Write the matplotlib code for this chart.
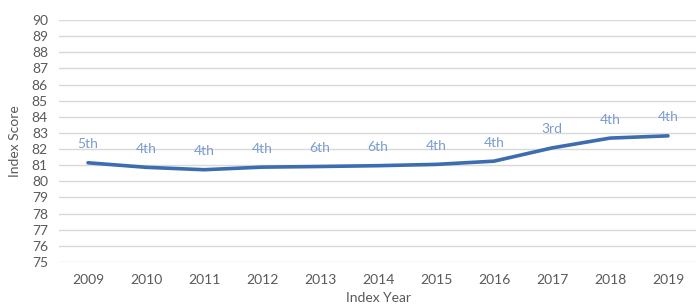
import matplotlib
matplotlib.use("Agg")
import matplotlib.pyplot as plt

years = ["2009", "2010", "2011", "2012", "2013", "2014", "2015", "2016", "2017", "2018", "2019"]
scores = [81.15, 80.87, 80.72, 80.88, 80.92, 80.97, 81.05, 81.25, 82.07, 82.68, 82.82]
ranks = ["5th", "4th", "4th", "4th", "6th", "6th", "4th", "4th", "3rd", "4th", "4th"]
yticks = list(range(75, 91))

plt.rcParams['font.family'] = ['Lato', 'DejaVu Sans']

fig = plt.figure(figsize=(6.96, 3.05), dpi=100)
ax = fig.add_axes([59/696, 1 - 262/305, (697 - 59)/696, (262 - 20)/305])

x = list(range(len(years)))
ax.plot(x, scores, color='#3D6CB0', linewidth=2.6, solid_capstyle='round', solid_joinstyle='round', zorder=3)
for xi, s, r in zip(x, scores, ranks):
    ax.annotate(r, (xi, s), xytext=(0, 9), textcoords='offset points', ha='center', va='bottom',
                color='#7A9CCF', fontsize=10)

ax.set_xlim(-0.5, len(years) - 0.5)
ax.set_ylim(75, 90)
ax.set_yticks(yticks)
ax.set_xticks(x)
ax.set_xticklabels(years)
ax.grid(axis='y', color='#D9D9D9', linewidth=1)
ax.set_axisbelow(True)
for sp in ax.spines.values():
    sp.set_visible(False)
ax.tick_params(length=0, colors='#595959', labelsize=10)
ax.tick_params(axis='x', pad=9)
ax.tick_params(axis='y', pad=8)
ax.set_xlabel("Index Year", color='#595959', fontsize=10, labelpad=4)
ax.set_ylabel("Index Score", color='#595959', fontsize=10, labelpad=8)

fig.savefig("out.png", dpi=100)
